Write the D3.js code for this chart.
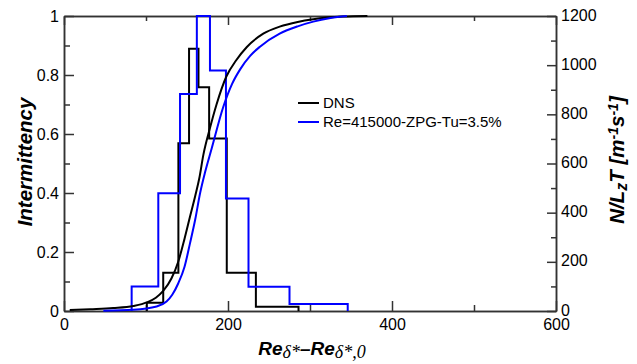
<!DOCTYPE html>
<html>
<head>
<meta charset="utf-8">
<script src="https://cdn.jsdelivr.net/npm/d3@7/dist/d3.min.js"></script>
<style>
  html, body { margin: 0; padding: 0; background: #fff; }
  svg { display: block; }
  .tick text { font-family: "Liberation Sans", Arial, sans-serif; font-size: 16px; fill: #000; }
</style>
</head>
<body>
<svg id="chart" width="637" height="364"></svg>
<script>
// Axis ticks
const xMajor = [0, 200, 400, 600];
const xMinor = [100, 300, 500];
const gammaMajor = [0, 0.2, 0.4, 0.6, 0.8, 1];
const gammaMinor = [0.1, 0.3, 0.5, 0.7, 0.9];
const rateMajor = [0, 200, 400, 600, 800, 1000, 1200];
const rateMinor = [100, 300, 500, 700, 900, 1100];

// Spot-production histograms (bin edges on x, values on right axis)
const dnsEdges = [101, 121, 139.5, 152.5, 164, 177, 198.5, 234, 286];
const dnsRate = [34, 156, 682, 1067, 910, 702, 156, 17];
const expEdges = [82.5, 115, 141.5, 162, 178, 197.5, 225, 275, 346];
const expRate = [100, 479, 883, 1200, 978, 458, 99, 28];

// Intermittency distributions (left axis)
const dnsGammaX = [7, 32, 60, 84.5, 101, 112, 121, 131, 139.4, 147, 153.7, 160, 165, 170, 178, 186, 198, 210, 223, 243, 263, 285, 304, 340, 370];
const dnsGammaY = [0.003, 0.006, 0.01, 0.017, 0.029, 0.045, 0.068, 0.11, 0.168, 0.245, 0.32, 0.39, 0.45, 0.53, 0.62, 0.7, 0.795, 0.85, 0.895, 0.94, 0.964, 0.98, 0.989, 0.998, 1.0];
const expGammaX = [48, 84.5, 113, 125, 132, 139.4, 147, 153.7, 160, 166, 172, 180, 194, 205, 215, 227, 239, 263, 285, 304, 325, 345];
const expGammaY = [0.001, 0.004, 0.015, 0.032, 0.055, 0.094, 0.15, 0.23, 0.31, 0.4, 0.47, 0.55, 0.69, 0.77, 0.82, 0.865, 0.896, 0.94, 0.965, 0.981, 0.993, 1.0];

const seriesNames = ["DNS", "Re=415000-ZPG-Tu=3.5%"];
const seriesColors = ["#000000", "#0000ff"];

const svg = d3.select("#chart");
const plotLeft = 64, plotRight = 556, plotTop = 16, plotBottom = 311;

const x = d3.scaleLinear().domain([0, 600]).range([plotLeft, plotRight]);
const yL = d3.scaleLinear().domain([0, 1]).range([plotBottom, plotTop]);
const yR = d3.scaleLinear().domain([0, 1200]).range([plotBottom, plotTop]);

const axisColor = "#333";
function styleAxis(g) {
  g.selectAll("path, line").attr("stroke", axisColor).attr("stroke-width", 1.5);
}

// Box frame (axes)
svg.append("g").attr("transform", `translate(0,${plotBottom})`)
  .call(d3.axisBottom(x).tickValues(xMajor).tickSizeInner(-10).tickSizeOuter(0).tickPadding(8).tickFormat(d3.format("d")))
  .call(styleAxis);
svg.append("g").attr("transform", `translate(0,${plotBottom})`)
  .call(d3.axisBottom(x).tickValues(xMinor).tickSizeInner(-6).tickSizeOuter(0).tickFormat(""))
  .call(styleAxis);
svg.append("g").attr("transform", `translate(0,${plotTop})`)
  .call(d3.axisTop(x).tickValues(xMajor).tickSizeInner(-9).tickSizeOuter(0).tickFormat(""))
  .call(styleAxis);
svg.append("g").attr("transform", `translate(0,${plotTop})`)
  .call(d3.axisTop(x).tickValues(xMinor).tickSizeInner(-5).tickSizeOuter(0).tickFormat(""))
  .call(styleAxis);
svg.append("g").attr("transform", `translate(${plotLeft},0)`)
  .call(d3.axisLeft(yL).tickValues(gammaMajor).tickSizeInner(-10).tickSizeOuter(0).tickPadding(5).tickFormat(d => String(d)))
  .call(styleAxis);
svg.append("g").attr("transform", `translate(${plotLeft},0)`)
  .call(d3.axisLeft(yL).tickValues(gammaMinor).tickSizeInner(-6).tickSizeOuter(0).tickFormat(""))
  .call(styleAxis);
svg.append("g").attr("transform", `translate(${plotRight},0)`)
  .call(d3.axisRight(yR).tickValues(rateMajor).tickSizeInner(-9).tickSizeOuter(0).tickPadding(5).tickFormat(d3.format("d")))
  .call(styleAxis)
  .call(g => g.selectAll(".tick text").attr("dy", "0.25em"));
svg.append("g").attr("transform", `translate(${plotRight},0)`)
  .call(d3.axisRight(yR).tickValues(rateMinor).tickSizeInner(-5).tickSizeOuter(0).tickFormat(""))
  .call(styleAxis);

// Step histograms
function stepPoints(edges, vals) {
  const pts = [[edges[0], 0]];
  vals.forEach((v, i) => { pts.push([edges[i], v]); pts.push([edges[i + 1], v]); });
  pts.push([edges[edges.length - 1], 0]);
  return pts;
}
const stepLine = d3.line().x(d => x(d[0])).y(d => yR(d[1]));
[[dnsEdges, dnsRate, seriesColors[0]], [expEdges, expRate, seriesColors[1]]].forEach(([e, v, c]) => {
  svg.append("path").attr("d", stepLine(stepPoints(e, v)))
    .attr("fill", "none").attr("stroke", c).attr("stroke-width", 2).attr("stroke-linejoin", "miter");
});

// Intermittency curves
const gammaLine = d3.line().x(d => x(d[0])).y(d => yL(d[1])).curve(d3.curveMonotoneX);
[[dnsGammaX, dnsGammaY, seriesColors[0]], [expGammaX, expGammaY, seriesColors[1]]].forEach(([xs, ys, c]) => {
  svg.append("path").attr("d", gammaLine(d3.zip(xs, ys)))
    .attr("fill", "none").attr("stroke", c).attr("stroke-width", 2);
});

// Legend
const legend = svg.append("g").attr("transform", "translate(298,103)");
seriesNames.forEach((name, i) => {
  const g = legend.append("g").attr("transform", `translate(0,${i * 19})`);
  g.append("line").attr("x1", 0).attr("x2", 21).attr("y1", 0).attr("y2", 0)
    .attr("stroke", seriesColors[i]).attr("stroke-width", 2);
  g.append("text").attr("x", 25).attr("y", 0).attr("dy", "0.35em")
    .attr("font-family", "Liberation Sans, Arial, sans-serif").attr("font-size", 15)
    .text(name);
});

// Axis titles
const titleFont = "Liberation Sans, Arial, sans-serif";
svg.append("text")
  .attr("transform", "translate(32,162) rotate(-90)")
  .attr("text-anchor", "middle")
  .attr("font-family", titleFont).attr("font-size", 20.5)
  .attr("font-weight", "bold").attr("font-style", "italic")
  .text("Intermittency");

const rt = svg.append("text")
  .attr("transform", "translate(624,160) rotate(-90)")
  .attr("text-anchor", "middle")
  .attr("font-family", titleFont).attr("font-size", 20.5)
  .attr("font-weight", "bold").attr("font-style", "italic");
rt.append("tspan").text("N/L");
rt.append("tspan").attr("dy", 3).attr("font-size", 16).text("z");
rt.append("tspan").attr("dy", -3).text("T [m");
rt.append("tspan").attr("dy", -6).attr("font-size", 14).text("-1");
rt.append("tspan").attr("dy", 6).text("s");
rt.append("tspan").attr("dy", -6).attr("font-size", 14).text("-1");
rt.append("tspan").attr("dy", 6).text("]");

const xt = svg.append("text")
  .attr("x", 312).attr("y", 355)
  .attr("text-anchor", "middle")
  .attr("font-family", titleFont).attr("font-size", 19)
  .attr("font-weight", "bold").attr("font-style", "italic");
const serif = "Liberation Serif, Times New Roman, serif";
xt.append("tspan").text("Re");
xt.append("tspan").attr("dy", 3).attr("font-family", serif).attr("font-weight", "normal").attr("font-size", 18).text("δ*");
xt.append("tspan").attr("dy", -3).text("–Re");
xt.append("tspan").attr("dy", 3).attr("font-family", serif).attr("font-weight", "normal").attr("font-size", 18).text("δ*,0");
</script>
</body>
</html>
